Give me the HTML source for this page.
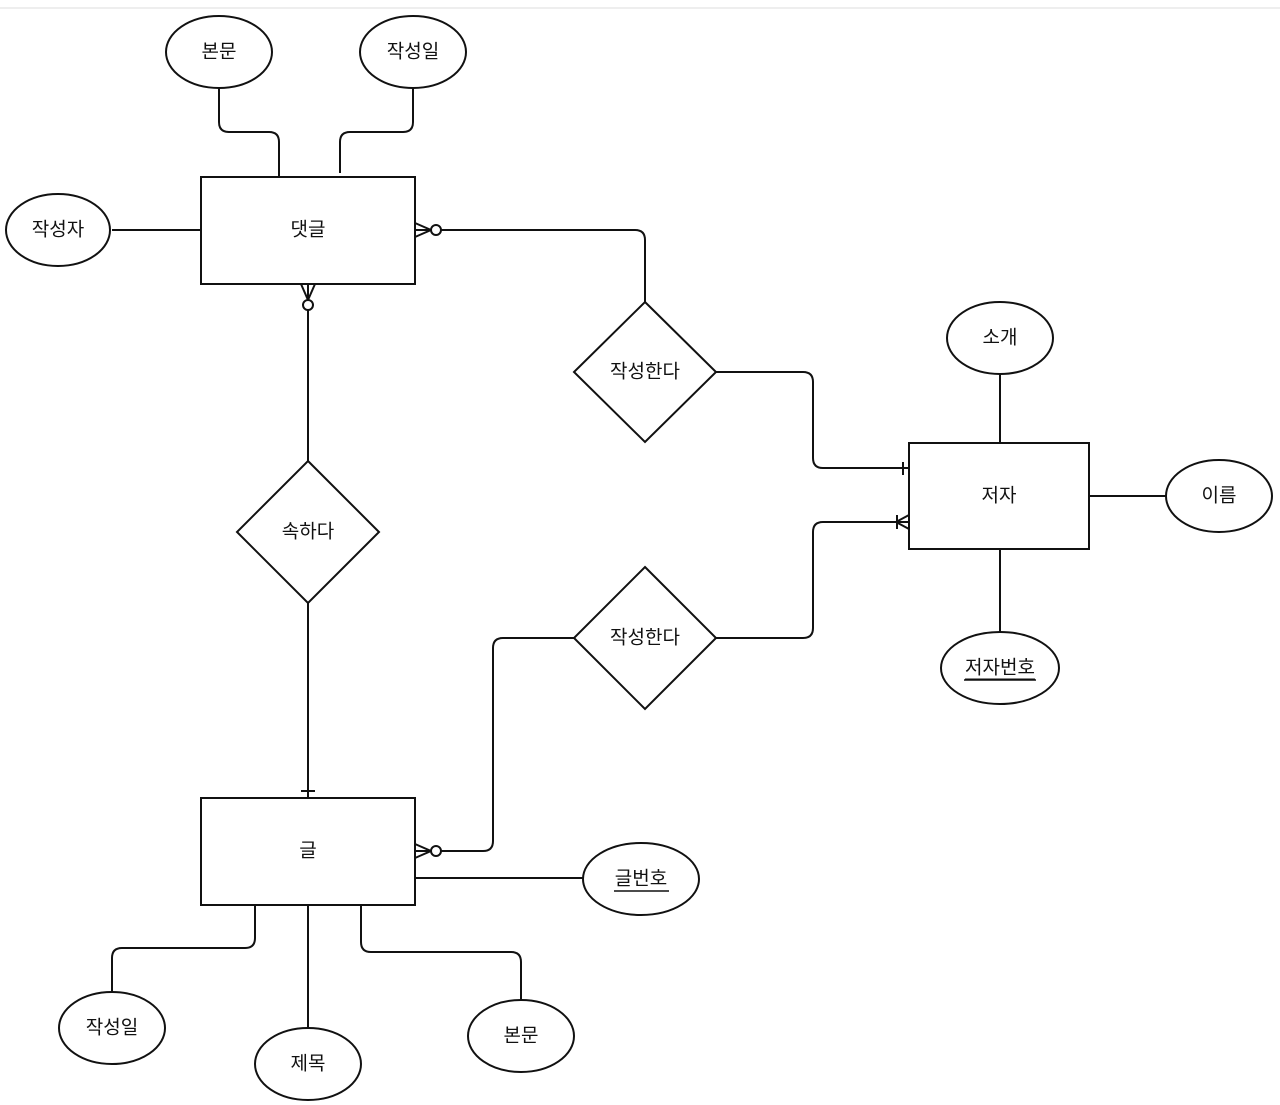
<!DOCTYPE html>
<html><head><meta charset="utf-8"><style>
html,body{margin:0;padding:0;background:#fff;}
svg{display:block;}
text{font-family:"Liberation Sans","Noto Sans CJK KR","NanumGothic",sans-serif;font-size:19px;fill:#111;text-anchor:middle;dominant-baseline:central;}
</style></head><body>
<svg width="1280" height="1105" viewBox="0 0 1280 1105" xmlns="http://www.w3.org/2000/svg">
<line x1="0" y1="8" x2="1280" y2="8" stroke="#eee" stroke-width="2"/>
<g fill="none" stroke="#111" stroke-width="2">
<!-- connectors -->
<path d="M219 88 V122 Q219 132 229 132 H269 Q279 132 279 142 V177"/>
<path d="M413 88 V122 Q413 132 403 132 H350 Q340 132 340 142 V173"/>
<line x1="112" y1="230" x2="201" y2="230"/>
<path d="M441 230 H635 Q645 230 645 240 V302"/>
<path d="M716 372 H803 Q813 372 813 382 V458 Q813 468 823 468 H909"/>
<line x1="1000" y1="374" x2="1000" y2="443"/>
<line x1="1089" y1="496" x2="1166" y2="496"/>
<line x1="1000" y1="549" x2="1000" y2="632"/>
<path d="M716 638 H803 Q813 638 813 628 V532 Q813 522 823 522 H909"/>
<path d="M574 638 H503 Q493 638 493 648 V841 Q493 851 483 851 H441"/>
<line x1="308" y1="310" x2="308" y2="461"/>
<line x1="308" y1="603" x2="308" y2="798"/>
<line x1="415" y1="878" x2="583" y2="878"/>
<path d="M255 905 V938 Q255 948 245 948 H122 Q112 948 112 958 V992"/>
<line x1="308" y1="905" x2="308" y2="1028"/>
<path d="M361 905 V942 Q361 952 371 952 H511 Q521 952 521 962 V1000"/>
<!-- notations -->
<path d="M415 223 L431 230 L415 237 M415 230 H431"/>
<circle cx="436" cy="230" r="5" fill="#fff"/>
<path d="M301 284 L308 300 L315 284 M308 284 V300"/>
<circle cx="308" cy="305" r="5" fill="#fff"/>
<path d="M415 844 L431 851 L415 858 M415 851 H431"/>
<circle cx="436" cy="851" r="5" fill="#fff"/>
<line x1="903" y1="462" x2="903" y2="475"/>
<line x1="301" y1="791" x2="315" y2="791"/>
<path d="M909 515 L896 522 L909 529 M897 515 V529"/>
<!-- shapes -->
<rect x="201" y="177" width="214" height="107" fill="#fff"/>
<rect x="909" y="443" width="180" height="106" fill="#fff"/>
<rect x="201" y="798" width="214" height="107" fill="#fff"/>
<polygon points="645,302 716,372 645,442 574,372" fill="#fff"/>
<polygon points="308,461 379,532 308,603 237,532" fill="#fff"/>
<polygon points="645,567 716,638 645,709 574,638" fill="#fff"/>
<ellipse cx="219" cy="52" rx="53" ry="36" fill="#fff"/>
<ellipse cx="413" cy="52" rx="53" ry="36" fill="#fff"/>
<ellipse cx="58" cy="230" rx="52" ry="36" fill="#fff"/>
<ellipse cx="1000" cy="338" rx="53" ry="36" fill="#fff"/>
<ellipse cx="1219" cy="496" rx="53" ry="36" fill="#fff"/>
<ellipse cx="1000" cy="668" rx="59" ry="36" fill="#fff"/>
<ellipse cx="641" cy="879" rx="58" ry="36" fill="#fff"/>
<ellipse cx="112" cy="1028" rx="53" ry="36" fill="#fff"/>
<ellipse cx="308" cy="1064" rx="53" ry="36" fill="#fff"/>
<ellipse cx="521" cy="1036" rx="53" ry="36" fill="#fff"/>
</g>
<text x="219" y="52">본문</text>
<text x="413" y="52">작성일</text>
<text x="58" y="230">작성자</text>
<text x="308" y="230">댓글</text>
<text x="645" y="372">작성한다</text>
<text x="1000" y="338">소개</text>
<text x="999" y="496">저자</text>
<text x="1219" y="496">이름</text>
<text x="1000" y="668" text-decoration="underline">저자번호</text>
<line x1="964" y1="680" x2="1036" y2="680" stroke="#111" stroke-width="1.5"/>
<text x="308" y="532">속하다</text>
<text x="645" y="638">작성한다</text>
<text x="308" y="851">글</text>
<text x="641" y="879">글번호</text>
<line x1="614" y1="891" x2="669" y2="891" stroke="#111" stroke-width="1.5"/>
<text x="112" y="1028">작성일</text>
<text x="308" y="1064">제목</text>
<text x="521" y="1036">본문</text>
</svg>
</body></html>
